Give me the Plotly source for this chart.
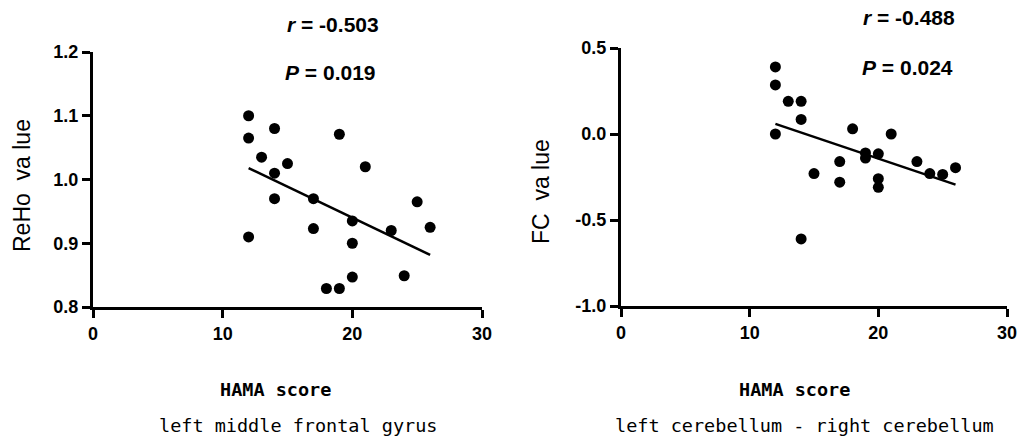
import numpy as np
import plotly.graph_objects as go

# ---- data ----
hama = [12, 12, 12, 13, 14, 14, 14, 15, 17, 17, 18, 19, 19, 20, 20, 20, 21, 23, 24, 25, 26]
reho = [1.100, 1.065, 0.910, 1.035, 1.080, 1.010, 0.970, 1.025, 0.970, 0.923, 0.829,
        1.071, 0.829, 0.935, 0.900, 0.847, 1.020, 0.920, 0.849, 0.965, 0.925]
fc = [0.390, 0.285, 0.000, 0.190, 0.190, 0.085, -0.610, -0.230, -0.160, -0.280, 0.030,
      -0.110, -0.140, -0.115, -0.260, -0.310, 0.000, -0.160, -0.230, -0.235, -0.196]

x_ticks = [0, 10, 20, 30]
reho_ticks = [0.8, 0.9, 1.0, 1.1, 1.2]
fc_ticks = [-1.0, -0.5, 0.0, 0.5]

stats_left = ["<i>r</i> = -0.503", "<i>P</i> = 0.019"]
stats_right = ["<i>r</i> = -0.488", "<i>P</i> = 0.024"]
x_title = "HAMA score"
sub_left = "left middle frontal gyrus"
sub_right = "left cerebellum - right cerebellum"
y_left = "ReHo\u00a0\u00a0va\u00a0lue"
y_right = "FC\u00a0\u00a0va\u00a0lue"

W, H = 1019, 436


def px_x(p):
    return p / W


def px_y(p):
    return 1 - p / H


fig = go.Figure()


def add_panel(ys, xa, ya):
    fig.add_trace(go.Scatter(x=hama, y=ys, mode="markers", xaxis=xa, yaxis=ya,
                             marker=dict(color="black", size=11), showlegend=False,
                             cliponaxis=False))
    k, b = np.polyfit(hama, ys, 1)
    xs = [min(hama), max(hama)]
    fig.add_trace(go.Scatter(x=xs, y=[k * v + b for v in xs], mode="lines", xaxis=xa, yaxis=ya,
                             line=dict(color="black", width=2.5), showlegend=False))


add_panel(reho, "x", "y")
add_panel(fc, "x2", "y2")

axis_common = dict(showline=True, linewidth=3, linecolor="black", ticks="outside",
                   ticklen=8, tickwidth=3, tickcolor="black", showgrid=False, zeroline=False,
                   automargin=False,
                   tickfont=dict(family="Arial, Liberation Sans", size=18, color="black",
                                 weight="bold"))

fig.update_layout(
    width=W, height=H,
    margin=dict(l=0, r=0, t=0, b=0),
    paper_bgcolor="white", plot_bgcolor="white",
    xaxis=dict(domain=[px_x(93), px_x(482)], range=[0, 30], tickvals=x_ticks,
               ticktext=[str(v) for v in x_ticks], anchor="y", **axis_common),
    yaxis=dict(domain=[px_y(307), px_y(52)], range=[0.8, 1.2], tickvals=reho_ticks,
               ticktext=["%.1f" % v for v in reho_ticks], anchor="x", **axis_common),
    xaxis2=dict(domain=[px_x(621), px_x(1007)], range=[0, 30], tickvals=x_ticks,
                ticktext=[str(v) for v in x_ticks], anchor="y2", **axis_common),
    yaxis2=dict(domain=[px_y(306), px_y(48)], range=[-1.0, 0.5], tickvals=fc_ticks,
                ticktext=["%.1f" % v for v in fc_ticks], anchor="x2", **axis_common),
)

stat_font = dict(family="Arial, Liberation Sans", size=21, color="black")
ann = []
for txt, cx, cy in [(stats_left[0], 333, 24), (stats_left[1], 330, 72),
                    (stats_right[0], 909, 18), (stats_right[1], 907, 67)]:
    ann.append(dict(text="<b>" + txt + "</b>", x=px_x(cx), y=px_y(cy), xref="paper", yref="paper",
                    xanchor="center", yanchor="middle", showarrow=False, font=stat_font))

mono = dict(family="DejaVu Sans Mono", size=18.5, color="black")
for txt, cx, cy, bold in [(x_title, 275, 389, True), (sub_left, 298, 425, False),
                          (x_title, 794, 389, True), (sub_right, 804, 425, False)]:
    ann.append(dict(text=("<b>" + txt + "</b>") if bold else txt, x=px_x(cx), y=px_y(cy),
                    xref="paper", yref="paper", xanchor="center", yanchor="middle",
                    showarrow=False, font=mono))

ytitle_font = dict(family="Arial, Liberation Sans", size=23, color="black")
for txt, cx, cy in [(y_left, 22, 186), (y_right, 541, 192)]:
    ann.append(dict(text=txt, x=px_x(cx), y=px_y(cy), xref="paper", yref="paper",
                    xanchor="center", yanchor="middle", textangle=-90, showarrow=False,
                    font=ytitle_font))

fig.update_layout(annotations=ann)
fig.write_html("out.html", config={"displayModeBar": False},
               post_script="document.body.style.margin='0';")
